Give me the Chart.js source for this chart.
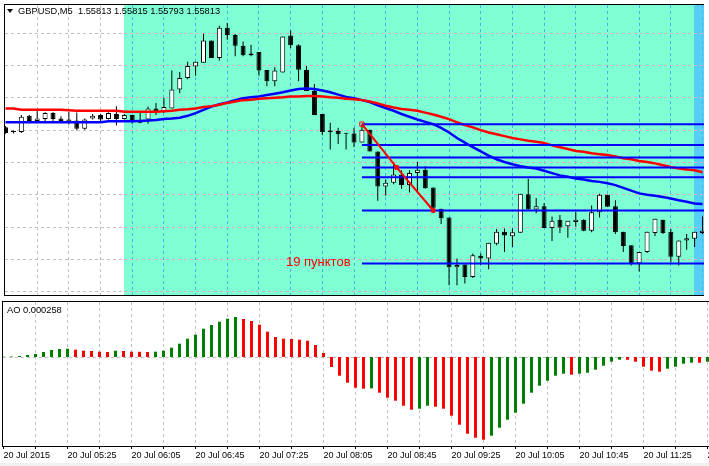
<!DOCTYPE html>
<html>
<head>
<meta charset="utf-8">
<script src="https://cdn.jsdelivr.net/npm/chart.js@4.4.1/dist/chart.umd.min.js"></script>
<style>
body { margin: 0; background: #fff; }
#wrap { position: relative; width: 709px; height: 466px; overflow: hidden; font-family: 'Liberation Sans', Arial, sans-serif; }
canvas { position: absolute; left: 0; }
#main { top: 0; }
#ao { top: 300px; }
.lbl { position: absolute; white-space: pre; color: #000; font-size: 9.3px; line-height: 11px; }
#tri { position: absolute; left: 7px; top: 9px; width: 0; height: 0; border-left: 3px solid transparent; border-right: 3px solid transparent; border-top: 4px solid #000; }
#pips { position: absolute; left: 286px; top: 254px; font-size: 13px; line-height: 16px; color: #ff0000; white-space: pre; }
#foot { position: absolute; left: 0; top: 463px; width: 709px; height: 3px; background: #f0f0f0; }
</style>
</head>
<body>
<div id="wrap">
  <canvas id="main" width="709" height="300"></canvas>
  <canvas id="ao" width="709" height="166"></canvas>
  <div id="tri"></div>
  <div class="lbl" style="left:18px;top:6px">GBPUSD,M5  1.55813 1.55815 1.55793 1.55813</div>
  <div class="lbl" style="left:7px;top:305px">AO 0.000258</div>
  <div id="pips">19 пунктов</div>
  <div id="foot"></div>
</div>
<script>
// 5 minute bars, index 0 = 20 Jul 04:45
const tickLabels = ['20 Jul 2015', '20 Jul 05:25', '20 Jul 06:05', '20 Jul 06:45', '20 Jul 07:25', '20 Jul 08:05',
    '20 Jul 08:45', '20 Jul 09:25', '20 Jul 10:05', '20 Jul 10:45', '20 Jul 11:25', '20 Jul 12:05'];

const opens = [1.56035, 1.56025, 1.56025, 1.56060, 1.56049, 1.56053, 1.56066, 1.56054, 1.56047, 1.56050,
    1.56032, 1.56054, 1.56062, 1.56053, 1.56064, 1.56053, 1.56062, 1.56045, 1.56052, 1.56076,
    1.56069, 1.56076, 1.56117, 1.56142, 1.56167, 1.56175, 1.56223, 1.56185, 1.56251, 1.56235,
    1.56212, 1.56191, 1.56198, 1.56159, 1.56135, 1.56154, 1.56234, 1.56213, 1.56160, 1.56114,
    1.56064, 1.56028, 1.56027, 1.56023, 1.56022, 1.56002, 1.56030, 1.55983, 1.55907, 1.55915,
    1.55933, 1.55910, 1.55936, 1.55943, 1.55905, 1.55859, 1.55840, 1.55732, 1.55738, 1.55711,
    1.55757, 1.55751, 1.55783, 1.55809, 1.55799, 1.55807, 1.55890, 1.55857, 1.55864, 1.55817,
    1.55835, 1.55821, 1.55830, 1.55835, 1.55811, 1.55851, 1.55889, 1.55864, 1.55809, 1.55780,
    1.55741, 1.55765, 1.55806, 1.55835, 1.55809, 1.55755, 1.55790, 1.55794, 1.55806];
const highs = [1.56038, 1.56028, 1.56062, 1.56062, 1.56073, 1.56068, 1.56068, 1.56059, 1.56069, 1.56067,
    1.56054, 1.56064, 1.56064, 1.56068, 1.56081, 1.56064, 1.56062, 1.56066, 1.56080, 1.56088,
    1.56099, 1.56158, 1.56155, 1.56177, 1.56177, 1.56238, 1.56223, 1.56255, 1.56261, 1.56237,
    1.56221, 1.56214, 1.56198, 1.56159, 1.56165, 1.56232, 1.56245, 1.56215, 1.56168, 1.56129,
    1.56064, 1.56045, 1.56034, 1.56023, 1.56034, 1.56041, 1.56030, 1.55983, 1.55922, 1.55956,
    1.55942, 1.55942, 1.55960, 1.55951, 1.55905, 1.55859, 1.55840, 1.55751, 1.55738, 1.55762,
    1.55762, 1.55785, 1.55815, 1.55816, 1.55816, 1.55891, 1.55924, 1.55882, 1.55871, 1.55842,
    1.55845, 1.55833, 1.55852, 1.55836, 1.55866, 1.55891, 1.55889, 1.55877, 1.55809, 1.55780,
    1.55765, 1.55809, 1.55837, 1.55835, 1.55815, 1.55790, 1.55804, 1.55809, 1.55842];
const lows = [1.56021, 1.56022, 1.56023, 1.56047, 1.56045, 1.56047, 1.56045, 1.56045, 1.56041, 1.56029,
    1.56030, 1.56052, 1.56049, 1.56052, 1.56039, 1.56052, 1.56043, 1.56044, 1.56043, 1.56062,
    1.56066, 1.56076, 1.56109, 1.56139, 1.56147, 1.56175, 1.56185, 1.56180, 1.56225, 1.56189,
    1.56189, 1.56189, 1.56147, 1.56124, 1.56124, 1.56154, 1.56207, 1.56135, 1.56114, 1.56062,
    1.56018, 1.55987, 1.55999, 1.55987, 1.55992, 1.56002, 1.55983, 1.55876, 1.55887, 1.55912,
    1.55902, 1.55894, 1.55894, 1.55902, 1.55850, 1.55826, 1.55693, 1.55693, 1.55697, 1.55709,
    1.55737, 1.55728, 1.55780, 1.55765, 1.55776, 1.55807, 1.55857, 1.55849, 1.55817, 1.55789,
    1.55806, 1.55796, 1.55820, 1.55810, 1.55808, 1.55840, 1.55863, 1.55804, 1.55765, 1.55736,
    1.55723, 1.55763, 1.55800, 1.55804, 1.55743, 1.55736, 1.55770, 1.55776, 1.55804];
const closes = [1.56023, 1.56025, 1.56058, 1.56049, 1.56054, 1.56066, 1.56053, 1.56049, 1.56052, 1.56032,
    1.56052, 1.56060, 1.56052, 1.56066, 1.56053, 1.56062, 1.56048, 1.56049, 1.56076, 1.56069,
    1.56079, 1.56117, 1.56142, 1.56168, 1.56177, 1.56223, 1.56185, 1.56251, 1.56235, 1.56212,
    1.56191, 1.56195, 1.56158, 1.56135, 1.56158, 1.56232, 1.56213, 1.56160, 1.56114, 1.56062,
    1.56025, 1.56025, 1.56020, 1.56021, 1.56002, 1.56030, 1.55983, 1.55907, 1.55915, 1.55933,
    1.55910, 1.55936, 1.55943, 1.55903, 1.55861, 1.55838, 1.55732, 1.55737, 1.55711, 1.55758,
    1.55751, 1.55785, 1.55809, 1.55801, 1.55808, 1.55891, 1.55857, 1.55864, 1.55817, 1.55833,
    1.55818, 1.55833, 1.55835, 1.55811, 1.55851, 1.55889, 1.55863, 1.55808, 1.55778, 1.55741,
    1.55765, 1.55809, 1.55837, 1.55806, 1.55755, 1.55790, 1.55795, 1.55809, 1.55811];

const maRed = [1.56076, 1.56076, 1.56073, 1.56073, 1.56073, 1.56073, 1.56073, 1.56073, 1.56072, 1.56071,
    1.56071, 1.56071, 1.56071, 1.56071, 1.56071, 1.56069, 1.56069, 1.56069, 1.56069, 1.56069,
    1.56070, 1.56071, 1.56073, 1.56074, 1.56076, 1.56079, 1.56081, 1.56084, 1.56088, 1.56091,
    1.56094, 1.56095, 1.56097, 1.56098, 1.56099, 1.56100, 1.56102, 1.56102, 1.56103, 1.56103,
    1.56102, 1.56100, 1.56099, 1.56097, 1.56096, 1.56094, 1.56091, 1.56087, 1.56082, 1.56078,
    1.56075, 1.56073, 1.56071, 1.56067, 1.56063, 1.56058, 1.56053, 1.56046, 1.56040, 1.56035,
    1.56029, 1.56024, 1.56020, 1.56016, 1.56012, 1.56009, 1.56006, 1.56004, 1.56001, 1.55996,
    1.55992, 1.55988, 1.55984, 1.55982, 1.55979, 1.55977, 1.55975, 1.55972, 1.55968, 1.55966,
    1.55962, 1.55960, 1.55957, 1.55953, 1.55949, 1.55946, 1.55944, 1.55942, 1.55938];
const maBlue = [1.56046, 1.56046, 1.56046, 1.56046, 1.56046, 1.56046, 1.56046, 1.56046, 1.56046, 1.56046,
    1.56046, 1.56046, 1.56046, 1.56048, 1.56048, 1.56048, 1.56048, 1.56049, 1.56050, 1.56051,
    1.56053, 1.56054, 1.56056, 1.56060, 1.56066, 1.56073, 1.56080, 1.56085, 1.56089, 1.56094,
    1.56098, 1.56100, 1.56102, 1.56105, 1.56108, 1.56111, 1.56115, 1.56118, 1.56119, 1.56118,
    1.56115, 1.56111, 1.56106, 1.56101, 1.56098, 1.56094, 1.56090, 1.56083, 1.56077, 1.56071,
    1.56064, 1.56058, 1.56052, 1.56047, 1.56042, 1.56034, 1.56024, 1.56012, 1.56002, 1.55992,
    1.55983, 1.55974, 1.55966, 1.55960, 1.55955, 1.55951, 1.55948, 1.55946, 1.55941, 1.55936,
    1.55931, 1.55928, 1.55924, 1.55922, 1.55919, 1.55917, 1.55914, 1.55910, 1.55904, 1.55898,
    1.55892, 1.55889, 1.55887, 1.55884, 1.55881, 1.55877, 1.55874, 1.55870, 1.55869];

const aoValues = [0.000009, 0.000015, 0.00003, 0.00006, 0.00009, 0.00015, 0.00021, 0.00024, 0.000249, 0.000219,
    0.000189, 0.00018, 0.000159, 0.00015, 0.000189, 0.00018, 0.000159, 0.000156, 0.00015, 0.000159,
    0.000189, 0.000279, 0.000399, 0.000549, 0.000669, 0.000849, 0.00096, 0.001059, 0.001149, 0.0012,
    0.00114, 0.00108, 0.000969, 0.000759, 0.0006, 0.000549, 0.00054, 0.000519, 0.000489, 0.00036,
    0.00012, -0.0003, -0.000561, -0.000771, -0.000921, -0.000951, -0.000942, -0.001071, -0.001221, -0.001311,
    -0.001461, -0.001581, -0.001551, -0.001461, -0.001491, -0.001551, -0.001761, -0.002031, -0.002301, -0.002421,
    -0.002481, -0.002361, -0.002121, -0.001881, -0.001671, -0.001401, -0.001071, -0.000861, -0.000711, -0.000561,
    -0.000501, -0.000531, -0.000501, -0.000471, -0.000381, -0.000261, -0.000141, -0.000081, -0.000084, -0.000141,
    -0.000291, -0.000411, -0.000441, -0.000351, -0.000291, -0.000201, -0.000171, -0.000174, -0.000141];

// fibo retracement drawn from bar 45 high to bar 54 low
const fibLevels = [1.56042, 1.55997, 1.55970, 1.55948, 1.55927, 1.55855, 1.55740];
const trendX = [45, 49.4, 54];
const trendY = [1.56042, 1.55948, 1.55855];

// background rectangles (bar index)
const zoneFrom = 15;
const zoneTo = 87;

Chart.defaults.font.family = "'Liberation Sans', Arial, sans-serif";
Chart.defaults.font.size = 9;
Chart.defaults.animation = false;

const xMin = -0.0625, xMax = 88.1875;

function seg(ctx, x1, y1, x2, y2) {
    ctx.beginPath();
    ctx.moveTo(x1, y1);
    ctx.lineTo(x2, y2);
    ctx.stroke();
}

function frame(chart) {
    const ctx = chart.ctx, a = chart.chartArea;
    ctx.save();
    ctx.strokeStyle = '#000';
    ctx.lineWidth = 1;
    ctx.setLineDash([]);
    seg(ctx, a.left - 1, a.top - 0.5, a.right, a.top - 0.5);
    seg(ctx, a.left - 0.5, a.top - 1, a.left - 0.5, a.bottom + 1);
    seg(ctx, a.left - 1, a.bottom + 0.5, a.right, a.bottom + 0.5);
    ctx.restore();
}

const mainBack = {
    id: 'mainBack',
    beforeDraw(chart) {
        const ctx = chart.ctx, a = chart.chartArea;
        const xs = chart.scales.x, ys = chart.scales.y;
        const x1 = Math.floor(xs.getPixelForValue(zoneFrom));
        const x2 = Math.floor(xs.getPixelForValue(zoneTo));
        ctx.save();
        ctx.fillStyle = '#fff';
        ctx.fillRect(0, 0, chart.width, chart.height);
        ctx.fillStyle = '#7fffd4';
        ctx.fillRect(x1, a.top, x2 - x1, a.bottom - a.top);
        ctx.fillStyle = '#57cef5';
        ctx.fillRect(x2, a.top, a.right - x2, a.bottom - a.top);
        ctx.lineWidth = 1;
        ctx.setLineDash([3, 3]);
        for (let k = 4; k <= 88; k += 4) {
            const x = Math.floor(xs.getPixelForValue(k)) + 0.5;
            ctx.strokeStyle = x < x1 ? '#c0c0c0' : '#44b4e4';
            seg(ctx, x, a.top, x, a.bottom);
        }
        ys.ticks.forEach(function (t) {
            const y = Math.round(ys.getPixelForValue(t.value)) + 0.5;
            if (y <= a.top + 1 || y >= a.bottom - 1) return;
            ctx.strokeStyle = '#c0c0c0';
            seg(ctx, a.left, y, x1, y);
            ctx.strokeStyle = '#e4aabe';
            seg(ctx, x1, y, a.right, y);
        });
        ctx.restore();
    },
    afterDraw: frame
};

const aoBack = {
    id: 'aoBack',
    beforeDraw(chart) {
        const ctx = chart.ctx, a = chart.chartArea;
        const xs = chart.scales.x, ys = chart.scales.y;
        ctx.save();
        ctx.fillStyle = '#fff';
        ctx.fillRect(0, 0, chart.width, chart.height);
        ctx.lineWidth = 1;
        ctx.setLineDash([3, 3]);
        ctx.strokeStyle = '#c0c0c0';
        for (let k = 4; k <= 88; k += 4) {
            const x = Math.floor(xs.getPixelForValue(k)) + 0.5;
            seg(ctx, x, a.top, x, a.bottom);
        }
        const y0 = Math.round(ys.getPixelForValue(0)) + 0.5;
        seg(ctx, a.left, y0, a.right, y0);
        ctx.restore();
    },
    afterDraw: frame
};

const wickData = lows.map((l, i) => ({x: i, y: [l, highs[i]]}));
const bodyData = opens.map((o, i) => ({x: i, y: [o, closes[i]]}));
const bodyColors = opens.map((o, i) => closes[i] > o ? '#ffffff' : '#000000');

const datasets = [
    {type: 'line', data: trendX.map((x, i) => ({x: x, y: trendY[i]})), borderColor: '#ff0000', borderWidth: 2,
        pointStyle: 'rect', pointRadius: [3, 2.5, 2.5], pointBorderColor: '#ff0000', pointBorderWidth: 1,
        pointBackgroundColor: ['rgba(0,0,0,0)', '#ff0000', '#ff0000'], order: -1},
    {type: 'line', data: maRed.map((v, i) => ({x: i, y: v})), borderColor: '#ff0000', borderWidth: 2.5, pointRadius: 0, order: 1},
    {type: 'line', data: maBlue.map((v, i) => ({x: i, y: v})), borderColor: '#0000ff', borderWidth: 2.5, pointRadius: 0, order: 1},
    {type: 'bar', data: bodyData, backgroundColor: bodyColors, borderColor: '#000', borderWidth: 1, borderSkipped: false,
        barThickness: 5, minBarLength: 1, grouped: false, inflateAmount: 0, order: 2},
    {type: 'bar', data: wickData, backgroundColor: '#000', barThickness: 1, grouped: false, inflateAmount: 0, order: 3}
];
fibLevels.forEach(function (v) {
    datasets.push({type: 'line', data: [{x: trendX[0], y: v}, {x: xMax, y: v}], borderColor: '#0000ff',
        borderWidth: 2, pointRadius: 0, order: 0});
});

new Chart(document.getElementById('main'), {
    type: 'bar',
    data: {datasets: datasets},
    options: {
        responsive: false,
        devicePixelRatio: 1,
        events: [],
        layout: {padding: {left: 3, top: 3, right: 0, bottom: 1}},
        plugins: {legend: {display: false}, tooltip: {enabled: false}},
        scales: {
            x: {type: 'linear', min: xMin, max: xMax, offset: false, display: false},
            y: {type: 'linear', min: 1.55672, max: 1.56300, display: false,
                ticks: {stepSize: 0.0007, includeBounds: false}}
        }
    },
    plugins: [mainBack]
});

new Chart(document.getElementById('ao'), {
    type: 'bar',
    data: {
        datasets: [{
            data: aoValues.map((v, i) => ({x: i, y: v})),
            backgroundColor: aoValues.map((v, i) => i === 0 || v > aoValues[i - 1] ? '#008000' : '#ff0000'),
            barThickness: 3,
            inflateAmount: 0
        }]
    },
    options: {
        responsive: false,
        devicePixelRatio: 1,
        events: [],
        layout: {padding: {left: 3, top: 2, right: 0, bottom: 0}},
        plugins: {legend: {display: false}, tooltip: {enabled: false}},
        scales: {
            x: {
                type: 'linear', min: xMin, max: xMax, offset: false, position: 'bottom',
                grid: {offset: false, drawOnChartArea: false, drawTicks: true, tickLength: 3, tickColor: '#000', color: '#000'},
                border: {display: false},
                ticks: {
                    stepSize: 4, includeBounds: false, autoSkip: false, maxRotation: 0, align: 'start',
                    padding: 1, color: '#000', font: {size: 9},
                    callback: v => v % 8 === 0 ? tickLabels[v / 8] : ''
                },
                afterFit: function (s) { s.height = 20; s.paddingLeft = 0; s.paddingRight = 0; }
            },
            y: {type: 'linear', min: -0.00267, max: 0.00165, display: false}
        }
    },
    plugins: [aoBack]
});
</script>
</body>
</html>
